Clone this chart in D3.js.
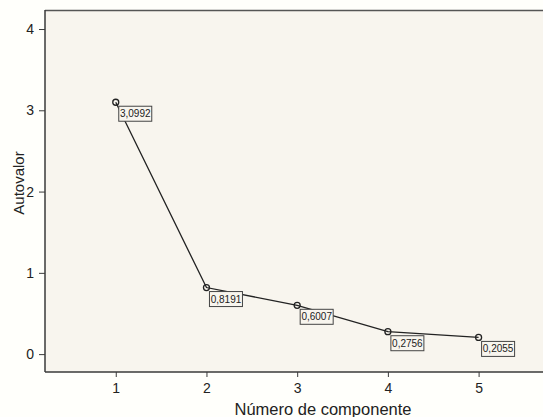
<!DOCTYPE html>
<html>
<head>
<meta charset="utf-8">
<script src="https://cdn.jsdelivr.net/npm/d3@7"></script>
<style>
  html, body { margin: 0; padding: 0; background: #fffffb; }
  svg { display: block; font-family: "Liberation Sans", Arial, sans-serif; }
</style>
</head>
<body>
<svg id="chart" width="543" height="417"></svg>
<script>
// eigenvalues per component (scree plot)
const components = [1, 2, 3, 4, 5];
const eigenvalues = [3.0992, 0.8191, 0.6007, 0.2756, 0.2055];
const yTicks = [0, 1, 2, 3, 4];

const style = {
  width: 543,
  height: 417,
  margin: { top: 10, right: 0, bottom: 45, left: 45 },
  background: '#f8f5ee',
  axisColor: '#3a3a3a'
};

const svg = d3.select('#chart');
const plotW = style.width - style.margin.left - style.margin.right;
const plotH = style.height - style.margin.top - style.margin.bottom;
const plotLeft = style.margin.left;
const plotTop = style.margin.top;
const plotBottom = plotTop + plotH;

const x = d3.scaleLinear().domain([0.22, 5.71]).range([plotLeft, plotLeft + plotW]);
const y = d3.scaleLinear().domain([-0.22, 4.234]).range([plotBottom, plotTop]);

// plot background
svg.append('rect')
  .attr('x', plotLeft).attr('y', plotTop)
  .attr('width', plotW).attr('height', plotH)
  .attr('fill', style.background);

// frame top line
svg.append('line')
  .attr('x1', plotLeft).attr('x2', style.width)
  .attr('y1', plotTop + 0.5).attr('y2', plotTop + 0.5)
  .attr('stroke', '#555').attr('stroke-width', 1.5);

// y axis
svg.append('g')
  .attr('transform', `translate(${plotLeft},0)`)
  .call(d3.axisLeft(y).tickValues(yTicks).tickSize(6).tickPadding(5).tickFormat(d3.format('d')))
  .call((g) => g.select('.domain').remove())
  .call((g) => g.selectAll('line').attr('stroke', style.axisColor))
  .call((g) => g.selectAll('text').attr('font-size', 14).attr('fill', '#222'));

svg.append('line')
  .attr('x1', plotLeft).attr('x2', plotLeft)
  .attr('y1', plotTop).attr('y2', plotBottom)
  .attr('stroke', style.axisColor).attr('stroke-width', 1.5);

// x axis
svg.append('g')
  .attr('transform', `translate(0,${plotBottom})`)
  .call(d3.axisBottom(x).tickValues(components).tickSize(5).tickPadding(6).tickFormat(d3.format('d')))
  .call((g) => g.select('.domain').remove())
  .call((g) => g.selectAll('line').attr('stroke', style.axisColor))
  .call((g) => g.selectAll('text').attr('font-size', 14).attr('fill', '#222'));

svg.append('line')
  .attr('x1', plotLeft).attr('x2', style.width)
  .attr('y1', plotBottom).attr('y2', plotBottom)
  .attr('stroke', style.axisColor).attr('stroke-width', 1.5);

// axis titles
svg.append('text')
  .attr('x', 323).attr('y', 415)
  .attr('text-anchor', 'middle')
  .attr('font-size', 16.5).attr('fill', '#222')
  .text('Número de componente');

svg.append('text')
  .attr('transform', `translate(24,183) rotate(-90)`)
  .attr('text-anchor', 'middle')
  .attr('font-size', 15).attr('fill', '#222')
  .text('Autovalor');

const data = components.map((c, i) => ({ c, v: eigenvalues[i] }));

// line
svg.append('path')
  .datum(data)
  .attr('fill', 'none')
  .attr('stroke', '#222')
  .attr('stroke-width', 1.3)
  .attr('d', d3.line().x((d) => x(d.c)).y((d) => y(d.v)));

// markers
svg.append('g')
  .selectAll('circle')
  .data(data)
  .join('circle')
  .attr('cx', (d) => x(d.c))
  .attr('cy', (d) => y(d.v))
  .attr('r', 3)
  .attr('fill', 'none')
  .attr('stroke', '#222')
  .attr('stroke-width', 1.3);

// value labels in boxes
const fmt = (v) => v.toFixed(4).replace('.', ',');
const labels = svg.append('g')
  .selectAll('g')
  .data(data)
  .join('g')
  .attr('transform', (d) => `translate(${x(d.c) + 3},${y(d.v) + 4})`);

labels.append('rect')
  .attr('width', 33).attr('height', 15)
  .attr('fill', style.background)
  .attr('stroke', '#444')
  .attr('stroke-width', 1);

labels.append('text')
  .attr('x', 16.5).attr('y', 11)
  .attr('text-anchor', 'middle')
  .attr('font-size', 10).attr('fill', '#222')
  .text((d) => fmt(d.v));
</script>
</body>
</html>
